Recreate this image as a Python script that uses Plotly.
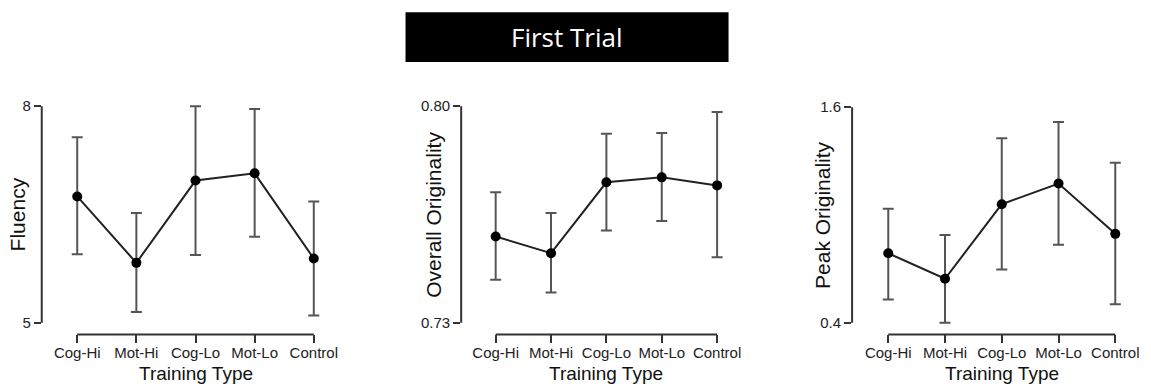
import plotly.graph_objects as go

W, H = 1151, 384

categories = ["Cog-Hi", "Mot-Hi", "Cog-Lo", "Mot-Lo", "Control"]

fluency_mean = [6.75, 5.83, 6.97, 7.07, 5.89]
fluency_upper = [7.57, 6.52, 8.00, 7.96, 6.68]
fluency_lower = [5.95, 5.15, 5.94, 6.19, 5.10]

overall_mean = [0.7579, 0.7525, 0.7754, 0.7770, 0.7744]
overall_upper = [0.7722, 0.7655, 0.7911, 0.7913, 0.7981]
overall_lower = [0.7439, 0.7398, 0.7598, 0.7629, 0.7512]

peak_mean = [0.787, 0.645, 1.060, 1.175, 0.895]
peak_upper = [1.035, 0.888, 1.427, 1.517, 1.291]
peak_lower = [0.530, 0.400, 0.696, 0.834, 0.503]

y_titles = ["Fluency", "Overall Originality", "Peak Originality"]
y_ticks = [[5, 8], [0.73, 0.80], [0.4, 1.6]]
y_ticktext = [["5", "8"], ["0.73", "0.80"], ["0.4", "1.6"]]
x_title = "Training Type"
main_title = "First Trial"

panels = [
    (fluency_mean, fluency_upper, fluency_lower),
    (overall_mean, overall_upper, overall_lower),
    (peak_mean, peak_upper, peak_lower),
]

# layout in pixels: (plot-left, first category x, category spacing, ylow tick px, yhigh tick px)
layout_px = [
    (42.0, 77.7, 59.5, 322.3, 104.0),
    (464.0, 498.7, 55.7, 322.3, 104.0),
    (857.3, 893.7, 57.1, 322.3, 105.0),
]
PLOT_TOP, PLOT_BOTTOM = 98.0, 334.0

fig = go.Figure()
line_col = "#222222"
err_col = "#555555"
axis_col = "#333333"
font_fam = "Liberation Sans, Arial, sans-serif"

shapes = []
annotations = []
for i, ((mean, up, lo), (left, x0px, dx, ylo_px, yhi_px)) in enumerate(zip(panels, layout_px)):
    n = i + 1
    xa = "x" if n == 1 else f"x{n}"
    ya = "y" if n == 1 else f"y{n}"
    xkey = "xaxis" if n == 1 else f"xaxis{n}"
    ykey = "yaxis" if n == 1 else f"yaxis{n}"

    xr0 = -(x0px - left) / dx
    xr1 = 4.3
    right = x0px + xr1 * dx
    ylo, yhi = y_ticks[i]
    ppu = (ylo_px - yhi_px) / (yhi - ylo)
    yr0 = ylo - (PLOT_BOTTOM - ylo_px) / ppu
    yr1 = yhi + (yhi_px - PLOT_TOP) / ppu

    xs = list(range(len(categories)))
    fig.add_trace(go.Scatter(
        x=xs, y=mean, mode="lines+markers", xaxis=xa, yaxis=ya,
        line=dict(color=line_col, width=2),
        marker=dict(color="black", size=10),
        error_y=dict(type="data", symmetric=False,
                     array=[u - m for u, m in zip(up, mean)],
                     arrayminus=[m - l for m, l in zip(mean, lo)],
                     color=err_col, thickness=2, width=5.5),
        cliponaxis=False, showlegend=False, hoverinfo="skip",
    ))

    fig.layout[xkey] = dict(
        domain=[left / W, right / W], range=[xr0, xr1], anchor=ya,
        tickvals=xs, ticktext=categories, ticks="outside", ticklen=8,
        tickwidth=2, tickcolor=axis_col, showline=False, showgrid=False,
        zeroline=False, ticklabelstandoff=-3,
        tickfont=dict(size=15, color="#222", family=font_fam),
    )
    fig.layout[ykey] = dict(
        domain=[1 - PLOT_BOTTOM / H, 1 - PLOT_TOP / H], range=[yr0, yr1], anchor=xa,
        tickvals=y_ticks[i], ticktext=y_ticktext[i], ticks="outside", ticklen=7,
        tickwidth=2, tickcolor=axis_col, showline=False, showgrid=False,
        zeroline=False, tickfont=dict(size=15, color="#222", family=font_fam),
    )

    shapes.append(dict(type="line", xref=f"{xa} domain", yref=ya, x0=0, x1=0,
                       y0=ylo, y1=yhi, line=dict(color=axis_col, width=2)))
    shapes.append(dict(type="line", xref=xa, yref=f"{ya} domain", x0=0, x1=4,
                       y0=0, y1=0, line=dict(color=axis_col, width=2)))

    annotations.append(dict(text=x_title, xref=xa, yref="paper", x=2, y=1 - 373.5 / H,
                            showarrow=False, xanchor="center", yanchor="middle",
                            font=dict(size=19, color="#111", family=font_fam)))
    ytitle_x = [18, 436, 828][i]
    annotations.append(dict(text=y_titles[i], xref="paper", yref="paper",
                            x=ytitle_x / W, y=1 - ((ylo_px + yhi_px) / 2) / H,
                            textangle=-90, showarrow=False, xanchor="center", yanchor="middle",
                            font=dict(size=21, color="#111", family=font_fam)))

shapes.append(dict(type="rect", xref="paper", yref="paper", x0=408 / W, x1=733 / W,
                   y0=1 - 59.5 / H, y1=1 - 9.3 / H, fillcolor="black",
                   line=dict(color="black", width=0)))
annotations.append(dict(text=main_title, xref="paper", yref="paper", x=570.5 / W, y=1 - 34.5 / H,
                        showarrow=False, xanchor="center", yanchor="middle",
                        font=dict(size=26, color="white", family="Open Sans, Noto Sans, sans-serif")))

fig.update_layout(width=W, height=H, margin=dict(l=0, r=0, t=0, b=0),
                  paper_bgcolor="white", plot_bgcolor="white",
                  shapes=shapes, annotations=annotations)

fig.write_html("out.html", config={"displayModeBar": False},
               post_script="document.body.style.margin='0';document.body.style.overflow='hidden';")
